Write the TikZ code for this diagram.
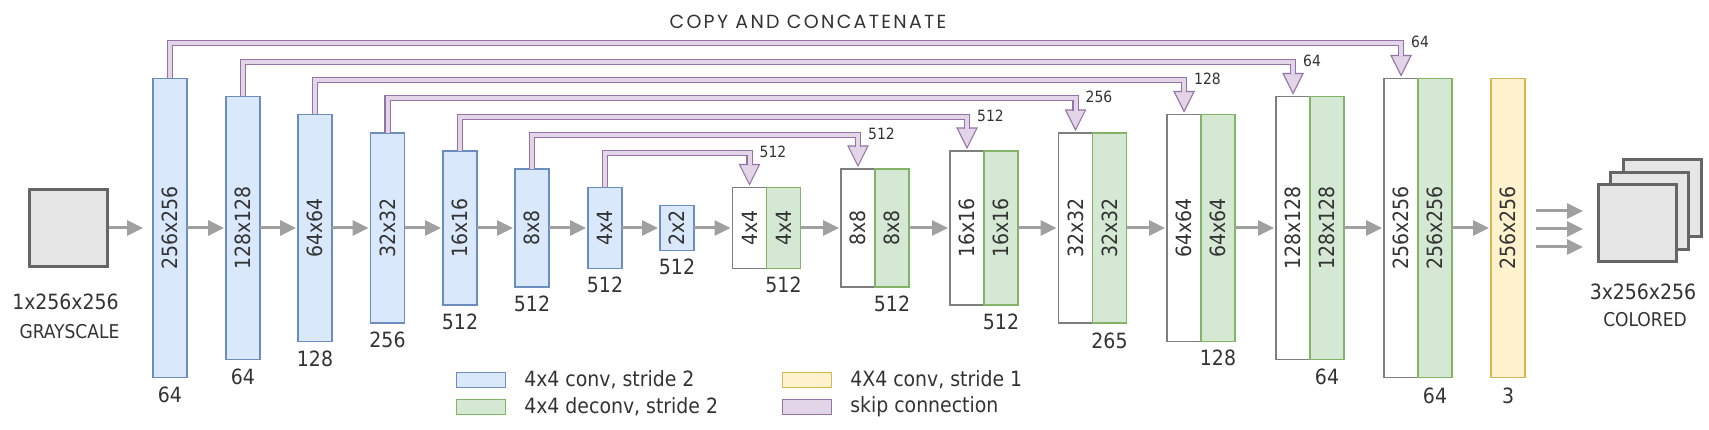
\documentclass[tikz,border=0pt]{standalone}
\usepackage{graphicx}
\usepackage{fontspec}
\setmainfont{DejaVu Sans Condensed}
\newfontfamily\titlefont[LetterSpace=12]{Poppins}
\usetikzlibrary{arrows.meta,positioning,calc}

\definecolor{encfill}{HTML}{DAE8FC}
\definecolor{encdraw}{HTML}{6C8EBF}
\definecolor{decfill}{HTML}{D5E8D4}
\definecolor{decdraw}{HTML}{82B366}
\definecolor{finfill}{HTML}{FFF2CC}
\definecolor{findraw}{HTML}{D6B656}
\definecolor{skipfill}{HTML}{E1D5E7}
\definecolor{skipdraw}{HTML}{9673A6}
\definecolor{catdraw}{HTML}{7F7F7F}
\definecolor{flowgray}{HTML}{A0A0A0}
\definecolor{imgfill}{HTML}{E6E6E6}
\definecolor{imgdraw}{HTML}{666666}
\definecolor{txt}{HTML}{333333}

\begin{document}
\begin{tikzpicture}[x=1pt,y=-1pt]
  \tikzstyle{blk}=[rectangle, draw, line width=1.2pt, inner sep=0pt, outer sep=0pt, minimum width=34pt, font=\fontsize{21}{21}\selectfont, text=txt]
  \tikzstyle{enc}=[blk, draw=encdraw, fill=encfill]
  \tikzstyle{cat}=[blk, draw=catdraw, fill=white]
  \tikzstyle{dec}=[blk, draw=decdraw, fill=decfill]
  \tikzstyle{fin}=[blk, draw=findraw, fill=finfill]
  \tikzstyle{dimlabel}=[inner sep=0pt, font=\fontsize{21}{21}\selectfont, text=txt]
  \tikzstyle{caplabel}=[inner sep=0pt, font=\fontsize{19}{19}\selectfont, text=txt]
  \tikzstyle{skiplabel}=[inner sep=0pt, font=\fontsize{15.5}{15.5}\selectfont, text=txt]
  \tikzstyle{flow}=[line width=3pt, draw=flowgray, -{Triangle[length=16pt,width=15pt]}, shorten >=2pt]
  \tikzstyle{pipe}=[draw=skipdraw, double=skipfill, double distance=4pt, line width=1.1pt]
  \tikzstyle{pipehead}=[draw=skipdraw, fill=skipfill, line width=1.1pt, line join=miter]
  \tikzstyle{img}=[rectangle, draw=imgdraw, fill=imgfill, line width=3pt, minimum width=78pt, minimum height=77pt]
  \tikzstyle{swatch}=[rectangle, line width=1.2pt, minimum width=49pt, minimum height=15pt, inner sep=0pt]
  \tikzstyle{legendtext}=[inner sep=0pt, anchor=west, font=\fontsize{21}{21}\selectfont, text=txt]

  \useasboundingbox (0,0) rectangle (1709,430);

  % input image
  \node[img] (in) at (68.5,228) {};
  \node[dimlabel] (inlbl) at (65.5,302) {1x256x256};
  \node[caplabel] (incap) at (69.5,332) {GRAYSCALE};

  % encoder
  \node[enc, minimum height=299pt] (e1) at (170,228) {\rotatebox{90}{256x256}};
  \node[enc, minimum height=263pt] (e2) at (243,228) {\rotatebox{90}{128x128}};
  \node[enc, minimum height=227pt] (e3) at (315,228) {\rotatebox{90}{64x64}};
  \node[enc, minimum height=190pt] (e4) at (387.5,228) {\rotatebox{90}{32x32}};
  \node[enc, minimum height=154pt] (e5) at (460,228) {\rotatebox{90}{16x16}};
  \node[enc, minimum height=118pt] (e6) at (532,228) {\rotatebox{90}{8x8}};
  \node[enc, minimum height=81pt] (e7) at (605,228) {\rotatebox{90}{4x4}};
  \node[enc, minimum height=45pt] (e8) at (677,228) {\rotatebox{90}{2x2}};

  \node[dimlabel, below=9pt of e1] {64};
  \node[dimlabel, below=9pt of e2] {64};
  \node[dimlabel, below=9pt of e3] {128};
  \node[dimlabel, below=9pt of e4] {256};
  \node[dimlabel, below=9pt of e5] {512};
  \node[dimlabel, below=9pt of e6] {512};
  \node[dimlabel, below=8pt of e7] {512};
  \node[dimlabel, below=8pt of e8] {512};

  % decoder (copied half + deconv half)
  \node[cat, minimum height=81pt] (d1a) at (749.5,228) {\rotatebox{90}{4x4}};
  \node[dec, minimum height=81pt, right=0pt of d1a] (d1b) {\rotatebox{90}{4x4}};
  \node[cat, minimum height=118pt] (d2a) at (858,228) {\rotatebox{90}{8x8}};
  \node[dec, minimum height=118pt, right=0pt of d2a] (d2b) {\rotatebox{90}{8x8}};
  \node[cat, minimum height=154pt] (d3a) at (967,228) {\rotatebox{90}{16x16}};
  \node[dec, minimum height=154pt, right=0pt of d3a] (d3b) {\rotatebox{90}{16x16}};
  \node[cat, minimum height=190pt] (d4a) at (1075.5,228) {\rotatebox{90}{32x32}};
  \node[dec, minimum height=190pt, right=0pt of d4a] (d4b) {\rotatebox{90}{32x32}};
  \node[cat, minimum height=227pt] (d5a) at (1184,228) {\rotatebox{90}{64x64}};
  \node[dec, minimum height=227pt, right=0pt of d5a] (d5b) {\rotatebox{90}{64x64}};
  \node[cat, minimum height=263pt] (d6a) at (1293,228) {\rotatebox{90}{128x128}};
  \node[dec, minimum height=263pt, right=0pt of d6a] (d6b) {\rotatebox{90}{128x128}};
  \node[cat, minimum height=299pt] (d7a) at (1401,228) {\rotatebox{90}{256x256}};
  \node[dec, minimum height=299pt, right=0pt of d7a] (d7b) {\rotatebox{90}{256x256}};

  \node[dimlabel, below=8pt of d1b] {512};
  \node[dimlabel, below=9pt of d2b] {512};
  \node[dimlabel, below=9pt of d3b] {512};
  \node[dimlabel, below=10pt of d4b] {265};
  \node[dimlabel, below=8pt of d5b] {128};
  \node[dimlabel, below=9pt of d6b] {64};
  \node[dimlabel, below=10pt of d7b] {64};

  % last conv
  \node[fin, minimum height=299pt] (fin) at (1508,228) {\rotatebox{90}{256x256}};
  \node[dimlabel, below=10pt of fin] {3};

  % output image
  \node[img] (out3) at (1662,198) {};
  \node[img] (out2) at (1649,211) {};
  \node[img] (out1) at (1637,223.5) {};
  \node[dimlabel] (outlbl) at (1643,292) {3x256x256};
  \node[caplabel] (outcap) at (1645,320) {COLORED};

  % main flow
  \draw[flow, shorten >=10pt] (in) -- (e1);
  \foreach \a/\b in {e1/e2, e2/e3, e3/e4, e4/e5, e5/e6, e6/e7, e7/e8, e8/d1a,
                     d1b/d2a, d2b/d3a, d3b/d4a, d4b/d5a, d5b/d6a, d6b/d7a, d7b/fin}
    \draw[flow] (\a) -- (\b);

  \foreach \n/\y in {1/211, 2/229, 3/247} {
    \coordinate (o\n) at (1536,\y);
    \coordinate (t\n) at (1583,\y);
    \draw[flow, shorten >=0pt] (o\n) -- (t\n);
  }

  % skip connections
  \node[inner sep=0pt, font=\titlefont\fontsize{19}{19}\selectfont, text=txt] (title) at (808,22) {COPY AND CONCATENATE};
  \foreach \src/\dst/\lvl/\ch in {e1/d7a/43/64, e2/d6a/62/64, e3/d5a/80/128, e4/d4a/98/256,
                                  e5/d3a/117/512, e6/d2a/135/512, e7/d1a/153/512} {
    \coordinate (lv) at (0,\lvl);
    \draw[pipehead] ($(\dst.north)+(-10,-23)$) -- ($(\dst.north)+(10,-23)$) -- ($(\dst.north)+(0,-3)$) -- cycle;
    \draw[pipe] (\src.north) -- (\src.north |- lv) -- (\dst.north |- lv) -- ($(\dst.north)+(0,-22)$);
    \node[skiplabel, anchor=west] at ($(\dst.north |- lv)+(10,-1)$) {\ch};
  }

  % legend
  \node[swatch, fill=encfill, draw=encdraw] (lg1) at (481,380) {};
  \node[legendtext, right=18pt of lg1] {4x4 conv, stride 2};
  \node[swatch, fill=decfill, draw=decdraw] (lg2) at (481,407) {};
  \node[legendtext, right=18pt of lg2] {4x4 deconv, stride 2};
  \node[swatch, fill=finfill, draw=findraw] (lg3) at (807,380) {};
  \node[legendtext, right=18pt of lg3] {4X4 conv, stride 1};
  \node[swatch, fill=skipfill, draw=skipdraw] (lg4) at (807,407) {};
  \node[legendtext, right=18pt of lg4] {skip connection};
\end{tikzpicture}
\end{document}
